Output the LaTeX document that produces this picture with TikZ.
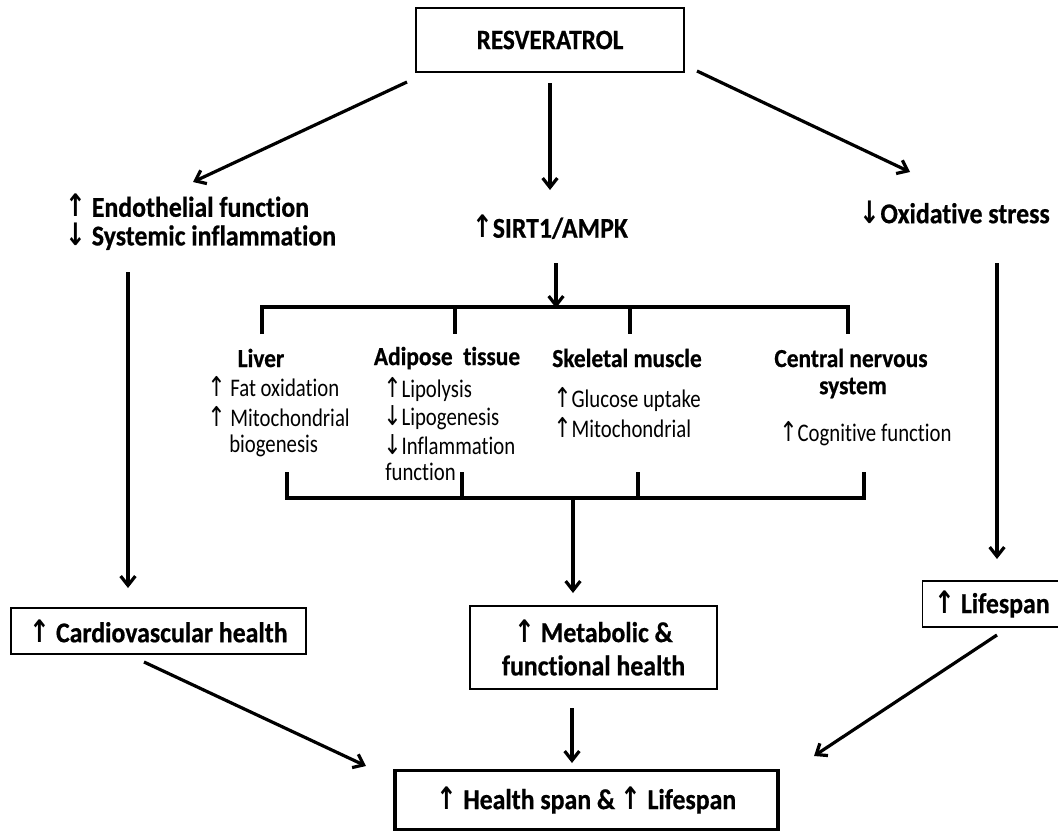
\documentclass[tikz,border=0pt]{standalone}
\usepackage{fontspec}
\setmainfont{Carlito}[FakeStretch=0.9, Ligatures=NoCommon, BoldFeatures={FakeBold=0.6}]
\newfontfamily\subfont{Carlito}[FakeStretch=0.82, Ligatures=NoCommon]
\newfontfamily\arrowfont{DejaVu Sans}[FakeStretch=0.8, Scale=1.08]
\newcommand\upar{{\arrowfont ↑}}
\newcommand\dnar{{\arrowfont ↓}}
\usetikzlibrary{arrows.meta}
\tikzset{
  big/.style={inner sep=0pt, font=\bfseries\fontsize{21.5}{21.5}\selectfont},
  hdr/.style={inner sep=0pt, font=\bfseries\fontsize{19.5}{22}\selectfont},
  sub/.style={inner sep=0pt, font=\subfont\fontsize{19}{21}\selectfont},
  thickbox/.style={draw, line width=2pt, inner sep=0pt},
  thinbox/.style={draw, line width=1.1pt, inner sep=0pt},
  arr/.style={line width=2.4pt, -{Straight Barb[length=7pt,width=11pt,line width=2.4pt]}},
  ln/.style={line width=2.6pt}
}
\begin{document}
\begin{tikzpicture}[x=0.75pt,y=-0.75pt]
\useasboundingbox (0,0) rectangle (1058,832);

% top box
\node[thickbox, minimum width=201pt, minimum height=48pt, font=\bfseries\fontsize{21}{22}\selectfont] (res) at (550,40) {RESVERATROL};

% first level
\node[big, anchor=west, align=left] (endo) at (65,222) {\upar\ Endothelial function\\\dnar\ Systemic inflammation};
\node[big] (sirt) at (550,227) {\upar SIRT1/AMPK};
\node[big, anchor=east] (oxid) at (1050,212) {\dnar Oxidative stress};

\coordinate (l1s) at (407,82);  \coordinate (l1e) at (193,182);
\coordinate (m1s) at (550,83);  \coordinate (m1e) at (550,190);
\coordinate (r1s) at (697,71);  \coordinate (r1e) at (910,172);
\draw[arr] (l1s) -- (l1e);
\draw[arr] (m1s) -- (m1e);
\draw[arr] (r1s) -- (r1e);

% SIRT arrow and top bracket
\coordinate (s1) at (556,263); \coordinate (s2) at (556,308);
\draw[arr] (s1) -- (s2);
\coordinate (tbl) at (262,307); \coordinate (tbr) at (848,307);
\draw[ln] (262,334) -- (tbl) -- (tbr) -- (848,334);
\draw[ln] (455,307) -- (455,334);
\draw[ln] (630,307) -- (630,334);

% tissue headers
\node[hdr] (liver) at (261,358) {Liver};
\node[hdr] (adip) at (447,358) {Adipose\ \ tissue};
\node[hdr] (skel) at (627,358) {Skeletal muscle};
\node[hdr] (cns1) at (851,358) {Central nervous};
\node[hdr] (cns2) at (853,388) {system};

% sub items
\node[sub, anchor=west] (lv1) at (207,387) {\upar\ Fat oxidation};
\node[sub, anchor=west] (lv2) at (207,417) {\upar\ Mitochondrial};
\node[sub, anchor=west] (lv3) at (229,446) {biogenesis};
\node[sub, anchor=west] (ad1) at (383,390) {\upar Lipolysis};
\node[sub, anchor=west] (ad2) at (383,418) {\dnar Lipogenesis};
\node[sub, anchor=west] (ad3) at (383,445) {\dnar Inflammation};
\node[sub, anchor=west] (ad4) at (385,472) {function};
\node[sub, anchor=west] (sk1) at (553,400) {\upar Glucose uptake};
\node[sub, anchor=west] (sk2) at (553,428) {\upar Mitochondrial};
\node[sub, anchor=west] (cn1) at (779,434) {\upar Cognitive function};

% bottom bracket
\coordinate (bbl) at (287,498); \coordinate (bbr) at (864,498);
\draw[ln] (287,472) -- (bbl) -- (bbr) -- (864,472);
\draw[ln] (462,472) -- (462,498);
\draw[ln] (638,472) -- (638,498);
\coordinate (b1) at (573,498); \coordinate (b2) at (573,593);
\draw[arr] (b1) -- (b2);

% side verticals
\coordinate (e1) at (128,272); \coordinate (e2) at (128,588);
\draw[arr] (e1) -- (e2);
\coordinate (o1) at (997,263); \coordinate (o2) at (997,559);
\draw[arr] (o1) -- (o2);

% outcome boxes
\node[thinbox, minimum width=221pt, minimum height=34.5pt, font=\bfseries\fontsize{21.5}{22.5}\selectfont] (cardio) at (158.5,631) {\upar\ Cardiovascular health};
\node[thinbox, minimum width=185pt, minimum height=62pt, align=center, font=\bfseries\fontsize{21.5}{25}\selectfont] (metab) at (593.5,647.5) {\upar\ Metabolic \&\\functional health};
\node[thinbox, minimum width=104pt, minimum height=34.5pt, font=\bfseries\fontsize{21.5}{22.5}\selectfont] (life) at (992,604) {\upar\ Lifespan};
\node[thickbox, line width=2.6pt, minimum width=287pt, minimum height=44pt, font=\bfseries\fontsize{21.5}{22.5}\selectfont] (health) at (586.5,800) {\upar\ Health span \& \upar\ Lifespan};

% final arrows
\coordinate (c1) at (144,662); \coordinate (c2) at (366,766);
\draw[arr] (c1) -- (c2);
\coordinate (mm1) at (572,708); \coordinate (mm2) at (572,763);
\draw[arr] (mm1) -- (mm2);
\coordinate (lf1) at (997,635); \coordinate (lf2) at (814,756);
\draw[arr] (lf1) -- (lf2);
\end{tikzpicture}
\end{document}
